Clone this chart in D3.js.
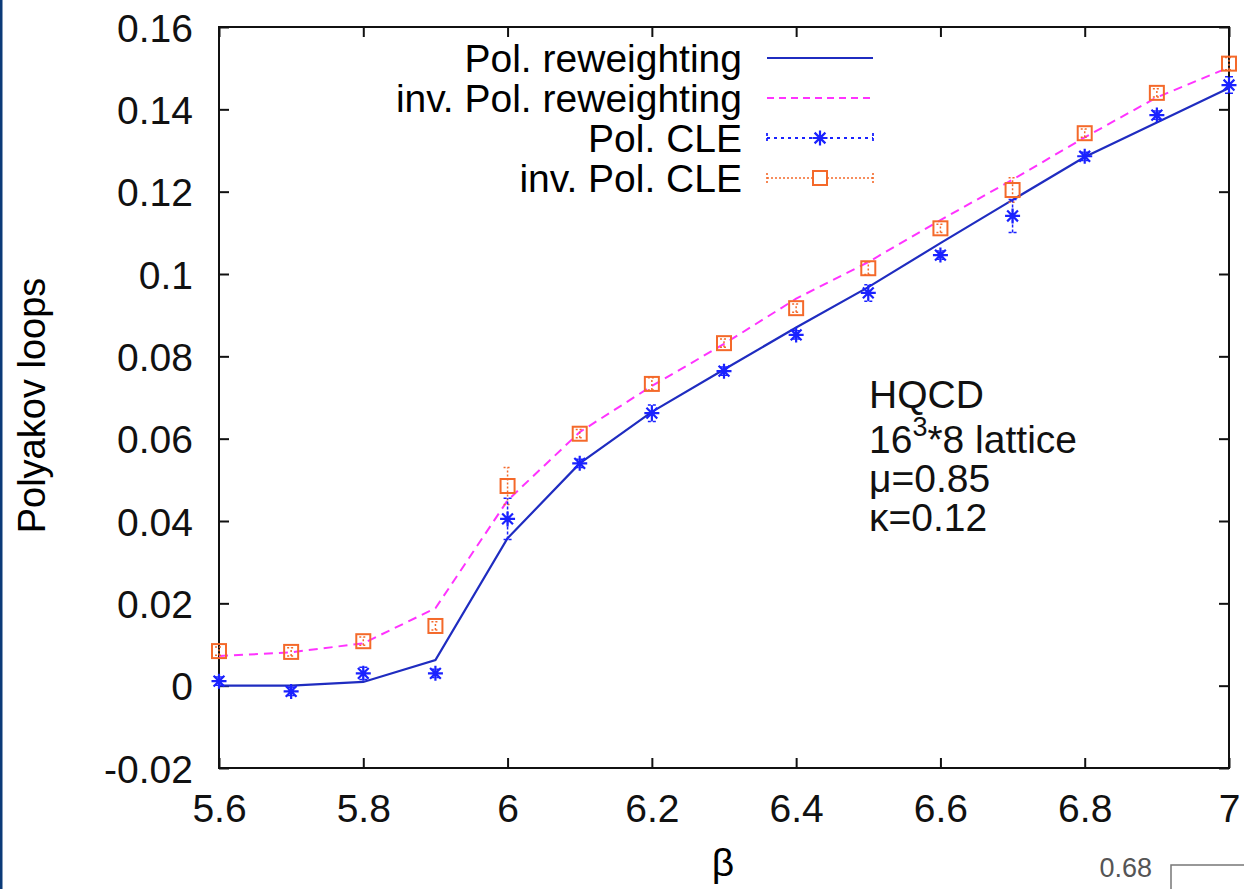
<!DOCTYPE html>
<html>
<head>
<meta charset="utf-8">
<script src="https://cdn.jsdelivr.net/npm/d3@7"></script>
<style>
  html, body { margin: 0; padding: 0; background: #fff; }
  svg { display: block; font-family: 'Liberation Sans', Arial, sans-serif; }
</style>
</head>
<body>
<div id="chart"></div>
<script>
// beta values
const beta = [5.6, 5.7, 5.8, 5.9, 6.0, 6.1, 6.2, 6.3, 6.4, 6.5, 6.6, 6.7, 6.8, 6.9, 7.0]
// reweighting curves
const polRew = [0.0, 0.0, 0.0009, 0.0062, 0.0358, 0.054, 0.0665, 0.0768, 0.0870, 0.0968, 0.1075, 0.1180, 0.1284, 0.1368, 0.1452]
const invPolRew = [0.0072, 0.0081, 0.0103, 0.0188, 0.045, 0.0616, 0.0728, 0.0830, 0.0940, 0.1029, 0.1131, 0.1229, 0.1332, 0.1429, 0.1502]
// CLE points + errors
const polCLE = [0.0011, -0.0014, 0.003, 0.003, 0.0405, 0.054, 0.0662, 0.0764, 0.0852, 0.0954, 0.1046, 0.1141, 0.1286, 0.1386, 0.1459]
const polCLEerr = [0.001, 0.001, 0.0015, 0.001, 0.005, 0.001, 0.002, 0.001, 0.001, 0.002, 0.001, 0.004, 0.001, 0.001, 0.002]
const invPolCLE = [0.0084, 0.0082, 0.0108, 0.0145, 0.0485, 0.0612, 0.0733, 0.0832, 0.0917, 0.1014, 0.1111, 0.1204, 0.1342, 0.1440, 0.1511]
const invPolCLEerr = [0.001, 0.001, 0.001, 0.001, 0.0045, 0.001, 0.0015, 0.001, 0.001, 0.0015, 0.001, 0.003, 0.001, 0.001, 0.0015]
// ticks
const xTicks = [5.6, 5.8, 6.0, 6.2, 6.4, 6.6, 6.8, 7.0]
const yTicks = [-0.02, 0, 0.02, 0.04, 0.06, 0.08, 0.1, 0.12, 0.14, 0.16]
const legendLabels = ['Pol. reweighting', 'inv. Pol. reweighting', 'Pol. CLE', 'inv. Pol. CLE']

const W = 1244
const H = 889
const mLeft = 219, mRight = 1229, mTop = 27, mBottom = 768
const blue = '#1f2cc0', star = '#1a22ff', magenta = '#ff33ff', orange = '#f4692a'
const fs = '39px'

const svg = d3.select('#chart').append('svg')
  .attr('width', W)
  .attr('height', H)

const x = d3.scaleLinear().domain([5.6, 7.0]).range([mLeft, mRight])
const y = d3.scaleLinear().domain([-0.02, 0.16]).range([mBottom, mTop])

// left slide border
svg.append('rect').attr('x', 0).attr('y', 0).attr('width', 2.5).attr('height', H).attr('fill', '#0b3a78')

// frame
svg.append('rect')
  .attr('x', mLeft).attr('y', mTop)
  .attr('width', mRight - mLeft).attr('height', mBottom - mTop)
  .attr('fill', 'none').attr('stroke', '#111').attr('stroke-width', 2)

const fmt = d => String(+d.toFixed(2))

// axes with inner ticks (both sides)
const tk = 10
svg.append('g').attr('class', 'ax-b').attr('transform', `translate(0,${mBottom})`)
  .call(d3.axisBottom(x).tickValues(xTicks).tickSize(-tk).tickPadding(26).tickFormat(fmt))
svg.append('g').attr('transform', `translate(0,${mTop})`)
  .call(d3.axisTop(x).tickValues(xTicks).tickSize(-tk).tickFormat(''))
svg.append('g').attr('class', 'ax-l').attr('transform', `translate(${mLeft},0)`)
  .call(d3.axisLeft(y).tickValues(yTicks).tickSize(-tk).tickPadding(26).tickFormat(fmt))
svg.append('g').attr('transform', `translate(${mRight},0)`)
  .call(d3.axisRight(y).tickValues(yTicks).tickSize(-tk).tickFormat(''))

svg.selectAll('.domain').remove()
svg.selectAll('.tick line').attr('stroke', '#111').attr('stroke-width', 2)
svg.selectAll('.tick text').attr('fill', '#111').style('font-size', fs).attr('font-family', null)
svg.selectAll('.ax-l .tick text').attr('dy', '0.36em')

// axis titles
svg.append('text')
  .attr('transform', `translate(45,${(mTop + mBottom) / 2 + 8}) rotate(-90)`)
  .attr('text-anchor', 'middle')
  .style('font-size', '38px')
  .text('Polyakov loops')
svg.append('text')
  .attr('x', 723).attr('y', 876)
  .attr('text-anchor', 'middle')
  .style('font-size', fs)
  .text('β')

// curves
const line = d3.line().x((d, i) => x(beta[i])).y(d => y(d))
svg.append('path').datum(polRew)
  .attr('d', line).attr('fill', 'none').attr('stroke', blue).attr('stroke-width', 2.2)
svg.append('path').datum(invPolRew)
  .attr('d', line).attr('fill', 'none').attr('stroke', magenta).attr('stroke-width', 2)
  .attr('stroke-dasharray', '9,6')

// markers
function starPath (cx, cy, r) {
  let d = `M${cx - r},${cy}h${2 * r}M${cx},${cy - r}v${2 * r}`
  let q = r * 0.72
  d += `M${cx - q},${cy - q}L${cx + q},${cy + q}M${cx - q},${cy + q}L${cx + q},${cy - q}`
  return d
}
function errBars (g, vals, errs, color, dash) {
  g.selectAll('.eb').data(vals).enter().append('path')
    .attr('d', (d, i) => {
      let cx = x(beta[i]), y0 = y(d - errs[i]), y1 = y(d + errs[i])
      return `M${cx},${y0}V${y1}M${cx - 4},${y0}h8M${cx - 4},${y1}h8`
    })
    .attr('fill', 'none').attr('stroke', color).attr('stroke-width', 1.5)
    .attr('stroke-dasharray', dash)
}

const gInv = svg.append('g')
errBars(gInv, invPolCLE, invPolCLEerr, orange, '2,2')
gInv.selectAll('rect').data(invPolCLE).enter().append('rect')
  .attr('x', (d, i) => x(beta[i]) - 7).attr('y', d => y(d) - 7)
  .attr('width', 14).attr('height', 14)
  .attr('fill', 'none').attr('stroke', orange).attr('stroke-width', 2)

const gPol = svg.append('g')
errBars(gPol, polCLE, polCLEerr, star, '3,2')
gPol.selectAll('.st').data(polCLE).enter().append('path')
  .attr('d', (d, i) => starPath(x(beta[i]), y(d), 7.5))
  .attr('fill', 'none').attr('stroke', star).attr('stroke-width', 2.2)

// legend
const lg = svg.append('g')
const rowY = [58, 98, 138, 178]
legendLabels.forEach((t, i) => {
  lg.append('text')
    .attr('x', 742).attr('y', rowY[i] + 14)
    .attr('text-anchor', 'end')
    .style('font-size', fs)
    .text(t)
})
const lx0 = 767, lx1 = 873, lxm = 820
lg.append('line').attr('x1', lx0).attr('x2', lx1).attr('y1', rowY[0]).attr('y2', rowY[0])
  .attr('stroke', blue).attr('stroke-width', 2.2)
lg.append('line').attr('x1', lx0).attr('x2', lx1).attr('y1', rowY[1]).attr('y2', rowY[1])
  .attr('stroke', magenta).attr('stroke-width', 1.8).attr('stroke-dasharray', '7,5')
lg.append('line').attr('x1', lx0).attr('x2', lx1).attr('y1', rowY[2]).attr('y2', rowY[2])
  .attr('stroke', star).attr('stroke-width', 1.8).attr('stroke-dasharray', '3,4')
lg.append('path').attr('d', `M${lx0},${rowY[2] - 5}v10M${lx1},${rowY[2] - 5}v10`)
  .attr('stroke', star).attr('stroke-width', 1.8).attr('stroke-dasharray', '3,2')
lg.append('path').attr('d', starPath(lxm, rowY[2], 7.5))
  .attr('fill', 'none').attr('stroke', star).attr('stroke-width', 2.2)
lg.append('line').attr('x1', lx0).attr('x2', lx1).attr('y1', rowY[3]).attr('y2', rowY[3])
  .attr('stroke', orange).attr('stroke-width', 1.6).attr('stroke-dasharray', '2,2')
lg.append('path').attr('d', `M${lx0},${rowY[3] - 5}v10M${lx1},${rowY[3] - 5}v10`)
  .attr('stroke', orange).attr('stroke-width', 1.6).attr('stroke-dasharray', '2,2')
lg.append('rect').attr('x', lxm - 7).attr('y', rowY[3] - 7).attr('width', 14).attr('height', 14)
  .attr('fill', '#fff').attr('stroke', orange).attr('stroke-width', 2)

// annotation
const ann = svg.append('g').style('font-size', fs).attr('fill', '#111')
ann.append('text').attr('x', 869).attr('y', 408).text('HQCD')
const t2 = ann.append('text').attr('x', 869).attr('y', 453)
t2.append('tspan').text('16')
t2.append('tspan').attr('dy', -17).style('font-size', '27px').text('3')
t2.append('tspan').attr('dy', 17).text('*8 lattice')
ann.append('text').attr('x', 869).attr('y', 492).text('μ=0.85')
ann.append('text').attr('x', 869).attr('y', 531).text('κ=0.12')

// piece of the next figure on the slide
svg.append('text').attr('x', 1152).attr('y', 877).attr('text-anchor', 'end')
  .style('font-size', '27px').attr('fill', '#555').text('0.68')
svg.append('path').attr('d', `M1171,${H}V865H${W}`)
  .attr('fill', 'none').attr('stroke', '#777').attr('stroke-width', 1.5)
</script>
</body>
</html>
